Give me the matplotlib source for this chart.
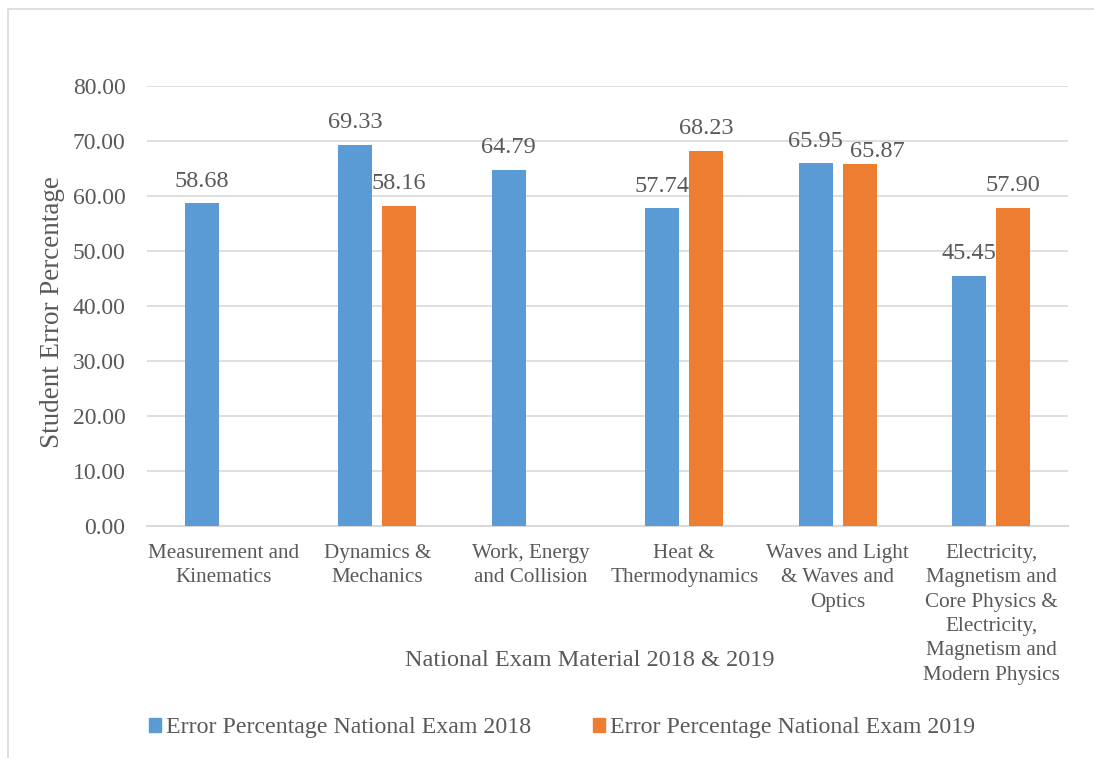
import numpy as np
import matplotlib
matplotlib.use("Agg")
import matplotlib.pyplot as plt
from matplotlib.patches import Patch
from matplotlib.lines import Line2D

plt.rcParams['font.family'] = ['Liberation Serif', 'DejaVu Serif']

categories = ["Measurement and\nKinematics", "Dynamics &\nMechanics", "Work, Energy\nand Collision",
              "Heat &\nThermodynamics", "Waves and Light\n& Waves and\nOptics",
              "Electricity,\nMagnetism and\nCore Physics &\nElectricity,\nMagnetism and\nModern Physics"]
err_2018 = [58.68, 69.33, 64.79, 57.74, 65.95, 45.45]
err_2019 = [np.nan, 58.16, np.nan, 68.23, 65.87, 57.90]
series_names = ["Error Percentage National Exam 2018", "Error Percentage National Exam 2019"]

blue = "#5B9BD5"
orange = "#ED7D31"
txt = "#595959"
grid = "#D9D9D9"

fig = plt.figure(figsize=(10.94, 7.58), dpi=100)
ax = fig.add_axes([147/1094, 1-526/758, 921/1094, 440/758])

x = np.arange(len(categories))
w = 0.222
off = 0.143
b1 = ax.bar(x - off, err_2018, w, color=blue, zorder=3)
b2 = ax.bar(x + off, err_2019, w, color=orange, zorder=3)

# label nudges (points) where labels would collide
nudge = {(1, 4): (13, -7)}

for k, (bars, vals) in enumerate(((b1, err_2018), (b2, err_2019))):
    for i, (r, v) in enumerate(zip(bars, vals)):
        if np.isnan(v):
            continue
        dx, dy = nudge.get((k, i), (0, 0))
        ax.annotate(f"{v:.2f}", (r.get_x() + r.get_width()/2, v), xytext=(dx, 12 + dy),
                    textcoords="offset points", ha="center", va="baseline",
                    fontsize=17.5, color=txt, zorder=4)

ax.set_xlim(-0.5, len(categories) - 0.5)
ax.set_ylim(0, 80)
ax.set_yticks(np.arange(0, 81, 10))
ax.set_yticklabels([f"{t:.2f}" for t in np.arange(0, 81, 10)])
ax.set_xticks(x)
ax.set_xticklabels(categories, linespacing=1.38)
ax.tick_params(axis="y", length=0, labelsize=17, labelcolor=txt, pad=15.5)
ax.tick_params(axis="x", length=0, labelsize=15.2, labelcolor=txt, pad=13)
ax.grid(axis="y", color=grid, linewidth=1.2, zorder=0)
for s in ("top", "right", "left"):
    ax.spines[s].set_visible(False)
ax.spines["bottom"].set_color(grid)
ax.spines["bottom"].set_linewidth(1.5)

ax.set_ylabel("Student Error Percentage", fontsize=19.5, color=txt)
ax.yaxis.set_label_coords(-82/921, (526-312)/440)
fig.text(590/1094, 1-660/758, "National Exam Material 2018 & 2019", fontsize=17.5,
         color=txt, ha="center", va="center")

handles = [Patch(color=blue), Patch(color=orange)]
leg = fig.legend(handles, series_names, loc="center", bbox_to_anchor=(562/1094, 1-728/758),
                 ncol=2, frameon=False, fontsize=17.2, handlelength=0.5, handleheight=0.5,
                 handletextpad=0.22, columnspacing=2.6, labelcolor=txt)

# outer chart frame
fig.add_artist(Line2D([8/1094, 8/1094, 1.0], [0, 1-9/758, 1-9/758],
                      transform=fig.transFigure, color=grid, linewidth=1.2))

fig.savefig("out.png", dpi=100)
